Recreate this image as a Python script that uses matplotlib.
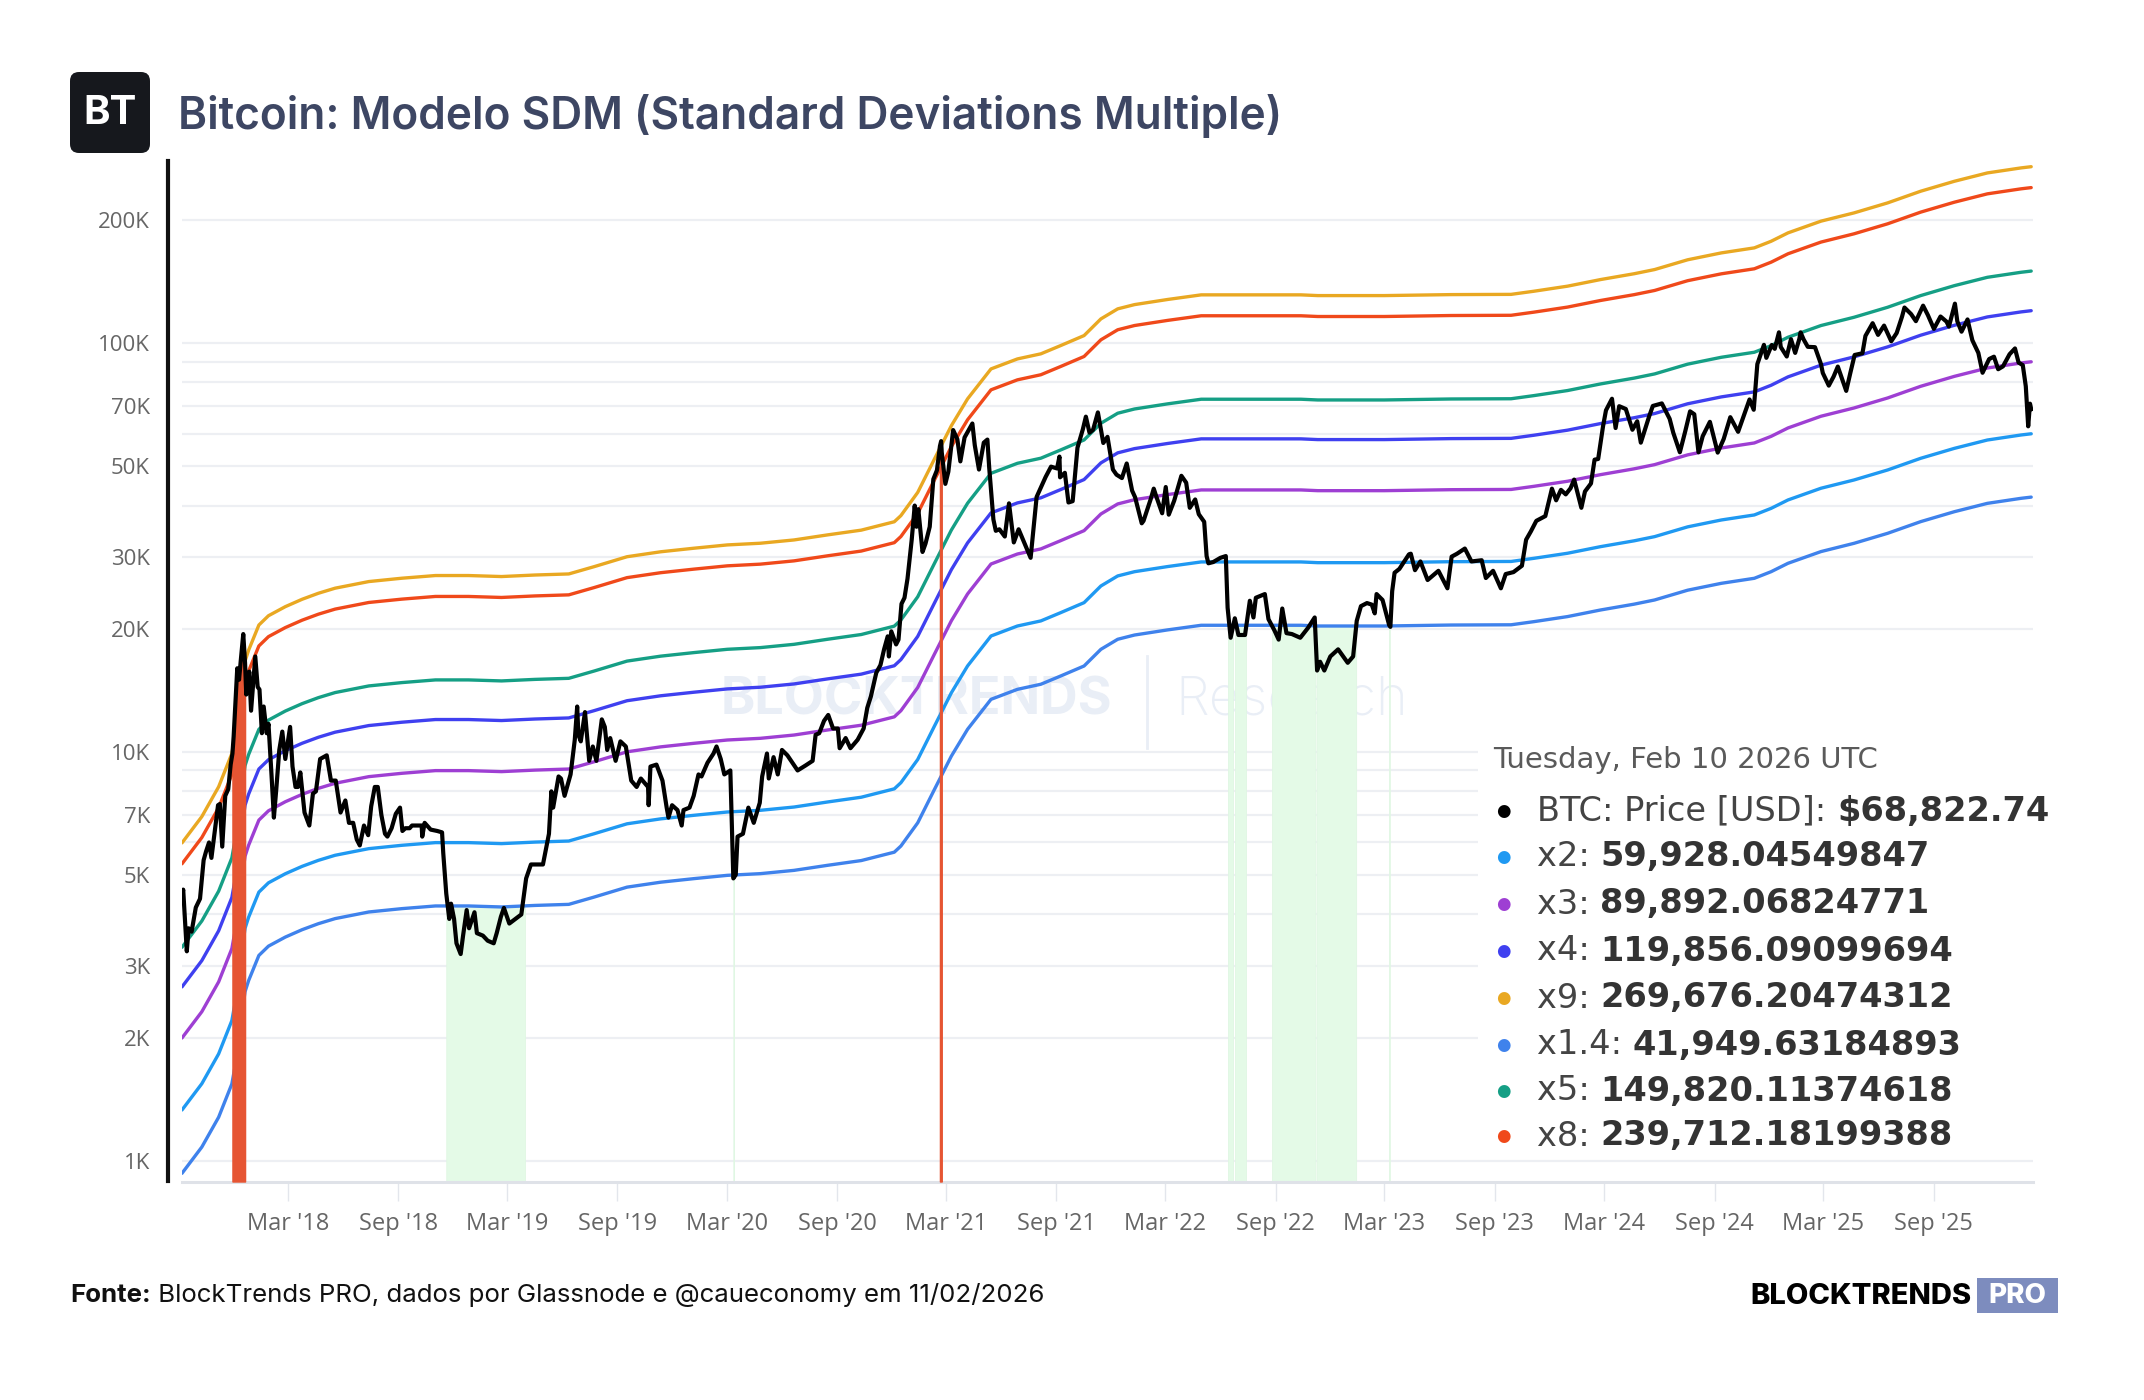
import numpy as np
import matplotlib
matplotlib.use('Agg')
import matplotlib.pyplot as plt
import matplotlib.dates as mdates
from matplotlib.patches import FancyBboxPatch, Rectangle
from matplotlib.ticker import FixedLocator, FuncFormatter
from matplotlib.transforms import IdentityTransform

# ---- data ----
price_dates = [
    '2017-09-06', '2017-09-08', '2017-09-14', '2017-09-17', '2017-09-22', '2017-09-29', '2017-10-06',
    '2017-10-12', '2017-10-16', '2017-10-21', '2017-10-25', '2017-10-31', '2017-11-05', '2017-11-08',
    '2017-11-12', '2017-11-17', '2017-11-22', '2017-11-26', '2017-11-29', '2017-12-01', '2017-12-07',
    '2017-12-10', '2017-12-13', '2017-12-17', '2017-12-20', '2017-12-22', '2017-12-27', '2017-12-30',
    '2018-01-06', '2018-01-10', '2018-01-13', '2018-01-17', '2018-01-20', '2018-01-25', '2018-01-28',
    '2018-02-02', '2018-02-06', '2018-02-10', '2018-02-15', '2018-02-20', '2018-02-25', '2018-03-05',
    '2018-03-09', '2018-03-14', '2018-03-18', '2018-03-22', '2018-03-29', '2018-04-06', '2018-04-12',
    '2018-04-17', '2018-04-24', '2018-05-05', '2018-05-12', '2018-05-20', '2018-05-28', '2018-06-05',
    '2018-06-11', '2018-06-18', '2018-06-24', '2018-06-29', '2018-07-06', '2018-07-13', '2018-07-18',
    '2018-07-24', '2018-07-29', '2018-08-04', '2018-08-10', '2018-08-14', '2018-08-21', '2018-08-28',
    '2018-09-04', '2018-09-08', '2018-09-13', '2018-09-20', '2018-09-24', '2018-10-01', '2018-10-10',
    '2018-10-11', '2018-10-15', '2018-10-25', '2018-11-05', '2018-11-13', '2018-11-15', '2018-11-20',
    '2018-11-25', '2018-11-28', '2018-12-03', '2018-12-07', '2018-12-14', '2018-12-18', '2018-12-24',
    '2018-12-28',
    '2019-01-06', '2019-01-10', '2019-01-20', '2019-01-28', '2019-02-07', '2019-02-12', '2019-02-19',
    '2019-02-24', '2019-03-05', '2019-03-15', '2019-03-25', '2019-04-02', '2019-04-10', '2019-04-20',
    '2019-04-30', '2019-05-10', '2019-05-14', '2019-05-17', '2019-05-26', '2019-05-30', '2019-06-05',
    '2019-06-15', '2019-06-22', '2019-06-26', '2019-06-28', '2019-07-02', '2019-07-09', '2019-07-16',
    '2019-07-22', '2019-07-28', '2019-08-06', '2019-08-11', '2019-08-15', '2019-08-20', '2019-08-29',
    '2019-09-06', '2019-09-15', '2019-09-24', '2019-10-03', '2019-10-10', '2019-10-22', '2019-10-23',
    '2019-10-26', '2019-11-05', '2019-11-15', '2019-11-22', '2019-11-25', '2019-12-01', '2019-12-10',
    '2019-12-17', '2019-12-20', '2019-12-30',
    '2020-01-06', '2020-01-14', '2020-01-19', '2020-01-29', '2020-02-08', '2020-02-13', '2020-02-20',
    '2020-02-26', '2020-03-07', '2020-03-12', '2020-03-16', '2020-03-19', '2020-03-28', '2020-04-06',
    '2020-04-15', '2020-04-25', '2020-04-29', '2020-05-07', '2020-05-10', '2020-05-18', '2020-05-25',
    '2020-06-01', '2020-06-10', '2020-06-27', '2020-07-10', '2020-07-22', '2020-07-27', '2020-08-02',
    '2020-08-10', '2020-08-17', '2020-08-25', '2020-09-02', '2020-09-05', '2020-09-15', '2020-09-23',
    '2020-10-05', '2020-10-15', '2020-10-21', '2020-10-27', '2020-11-05', '2020-11-12', '2020-11-18',
    '2020-11-24', '2020-11-26', '2020-11-30', '2020-12-08', '2020-12-12', '2020-12-17', '2020-12-22',
    '2020-12-27',
    '2021-01-03', '2021-01-08', '2021-01-11', '2021-01-14', '2021-01-21', '2021-01-26', '2021-02-02',
    '2021-02-08', '2021-02-14', '2021-02-19', '2021-02-21', '2021-02-22', '2021-02-28', '2021-03-05',
    '2021-03-13', '2021-03-20', '2021-03-25', '2021-04-01', '2021-04-14', '2021-04-18', '2021-04-25',
    '2021-05-03', '2021-05-09', '2021-05-12', '2021-05-19', '2021-05-23', '2021-05-29', '2021-06-07',
    '2021-06-14', '2021-06-22', '2021-06-30', '2021-07-08', '2021-07-20', '2021-07-25', '2021-07-30',
    '2021-08-07', '2021-08-14', '2021-08-23', '2021-09-02', '2021-09-06', '2021-09-07', '2021-09-15',
    '2021-09-21', '2021-09-28', '2021-10-06', '2021-10-15', '2021-10-20', '2021-10-26', '2021-11-01',
    '2021-11-09', '2021-11-18', '2021-11-25', '2021-12-04', '2021-12-10', '2021-12-19', '2021-12-27',
    '2022-01-05', '2022-01-10', '2022-01-21', '2022-01-24', '2022-02-05', '2022-02-10', '2022-02-14',
    '2022-02-24', '2022-03-02', '2022-03-07', '2022-03-16', '2022-03-28', '2022-04-05', '2022-04-11',
    '2022-04-20', '2022-04-26', '2022-05-05', '2022-05-09', '2022-05-12', '2022-05-20', '2022-06-01',
    '2022-06-10', '2022-06-13', '2022-06-18', '2022-06-25', '2022-07-01', '2022-07-12', '2022-07-20',
    '2022-07-26', '2022-07-30', '2022-08-14', '2022-08-20', '2022-08-30', '2022-09-06', '2022-09-12',
    '2022-09-19', '2022-09-28', '2022-10-12', '2022-10-25', '2022-11-05', '2022-11-09', '2022-11-14',
    '2022-11-21', '2022-12-01', '2022-12-14', '2022-12-30',
    '2023-01-08', '2023-01-14', '2023-01-21', '2023-01-31', '2023-02-08', '2023-02-13', '2023-02-16',
    '2023-02-26', '2023-03-09', '2023-03-11', '2023-03-14', '2023-03-18', '2023-03-26', '2023-04-11',
    '2023-04-14', '2023-04-21', '2023-04-30', '2023-05-12', '2023-05-30', '2023-06-14', '2023-06-21',
    '2023-06-30', '2023-07-13', '2023-07-24', '2023-08-10', '2023-08-17', '2023-08-29', '2023-09-11',
    '2023-09-19', '2023-10-02', '2023-10-16', '2023-10-23', '2023-10-31', '2023-11-09', '2023-11-24',
    '2023-12-05', '2023-12-12', '2023-12-20', '2023-12-28',
    '2024-01-05', '2024-01-11', '2024-01-23', '2024-01-29', '2024-02-08', '2024-02-14', '2024-02-20',
    '2024-02-28', '2024-03-04', '2024-03-14', '2024-03-20', '2024-03-26', '2024-04-06', '2024-04-17',
    '2024-04-25', '2024-05-01', '2024-05-15', '2024-05-21', '2024-06-05', '2024-06-18', '2024-06-24',
    '2024-07-05', '2024-07-14', '2024-07-22', '2024-07-29', '2024-08-05', '2024-08-12', '2024-08-24',
    '2024-09-06', '2024-09-16', '2024-09-27', '2024-10-10', '2024-10-21', '2024-10-29', '2024-11-05',
    '2024-11-11', '2024-11-22', '2024-11-26', '2024-12-05', '2024-12-10', '2024-12-17', '2024-12-20',
    '2024-12-30',
    '2025-01-06', '2025-01-13', '2025-01-20', '2025-01-22', '2025-01-27', '2025-02-03', '2025-02-15',
    '2025-02-25', '2025-02-28', '2025-03-10', '2025-03-18', '2025-03-25', '2025-04-08', '2025-04-15',
    '2025-04-22', '2025-05-05', '2025-05-10', '2025-05-22', '2025-05-31', '2025-06-10', '2025-06-22',
    '2025-07-01', '2025-07-10', '2025-07-14', '2025-07-25', '2025-08-02', '2025-08-14', '2025-08-22',
    '2025-09-01', '2025-09-12', '2025-09-22', '2025-09-26', '2025-10-06', '2025-10-10', '2025-10-17',
    '2025-10-27', '2025-11-04', '2025-11-14', '2025-11-21', '2025-12-02', '2025-12-10', '2025-12-17',
    '2025-12-25',
    '2026-01-05', '2026-01-14', '2026-01-20', '2026-01-27', '2026-02-01', '2026-02-05', '2026-02-08',
    '2026-02-10',
]
price_usd = [
    4400, 4600, 3250, 3700, 3630, 4160, 4370,
    5430, 5700, 6000, 5500, 6450, 7400, 7450,
    5860, 7800, 8100, 9300, 9900, 10900, 16000,
    15000, 16800, 19400, 16500, 13800, 15700, 12600,
    17100, 14400, 14200, 11100, 12900, 11100, 11700,
    8800, 6900, 8100, 10100, 11200, 9600, 11500,
    9200, 8200, 8200, 8900, 7100, 6600, 7900,
    8000, 9600, 9800, 8500, 8500, 7100, 7600,
    6700, 6700, 6100, 5900, 6600, 6250, 7350,
    8200, 8200, 7000, 6300, 6200, 6500, 7050,
    7300, 6400, 6500, 6500, 6600, 6600, 6600,
    6200, 6700, 6450, 6400, 6350, 5650, 4500,
    3900, 4250, 3900, 3400, 3200, 3550, 4100,
    3700,
    4050, 3600, 3550, 3450, 3400, 3600, 3950,
    4150, 3800, 3900, 4000, 4900, 5300, 5300,
    5300, 6300, 8000, 7300, 8700, 8600, 7800,
    8800, 10700, 12900, 11000, 10600, 12500, 9500,
    10300, 9500, 12000, 11500, 10100, 10800, 9500,
    10600, 10300, 8500, 8200, 8600, 8200, 7400,
    9200, 9300, 8500, 7300, 6900, 7400, 7200,
    6600, 7200, 7300,
    7800, 8800, 8700, 9400, 9900, 10300, 9600,
    8800, 9000, 4900, 5000, 6200, 6300, 7300,
    6700, 7500, 8700, 9900, 8600, 9700, 8800,
    10100, 9800, 9000, 9250, 9500, 11000, 11100,
    11900, 12300, 11400, 11400, 10200, 10800, 10200,
    10700, 11400, 12800, 13650, 15600, 16300, 17800,
    19150, 17100, 19700, 18300, 18800, 23000, 23800,
    26500,
    33000, 40000, 35500, 39200, 30800, 32300, 35500,
    46400, 48800, 55900, 57500, 54000, 45200, 48400,
    61200, 58100, 51300, 58700, 63500, 56200, 49000,
    57000, 58000, 49600, 37000, 34700, 35000, 33600,
    40500, 32500, 35000, 32800, 29800, 35400, 42000,
    44600, 47000, 49800, 49300, 52700, 46900, 48100,
    40700, 41000, 55400, 61500, 66000, 60300, 61300,
    67600, 56900, 58900, 49000, 47600, 46700, 50700,
    43500, 41900, 36200, 36700, 41500, 44000, 42200,
    38300, 44400, 38000, 41100, 47300, 45500, 39500,
    41400, 38100, 36500, 30100, 28900, 29100, 29800,
    30100, 22500, 19000, 21200, 19300, 19300, 23400,
    21300, 23800, 24300, 21100, 19800, 18800, 22400,
    19500, 19400, 19000, 20100, 21300, 15800, 16600,
    15800, 17100, 17800, 16500,
    17100, 20900, 22700, 23100, 22900, 21800, 24300,
    23500, 20400, 20200, 24700, 27400, 28000, 30400,
    30500, 27800, 29200, 26300, 27700, 25100, 30000,
    30500, 31400, 29200, 29400, 26600, 27700, 25100,
    27200, 27500, 28500, 33000, 34600, 36700, 37700,
    44000, 41200, 43700, 42600,
    44100, 46300, 39500, 43300, 45300, 51800, 52000,
    62400, 68400, 73000, 61900, 70000, 68900, 61300,
    64300, 57000, 66200, 70100, 71100, 65200, 60300,
    54000, 60800, 68000, 66900, 54000, 59100, 64100,
    53900, 58200, 65800, 60600, 67400, 72700, 68600,
    88700, 98900, 91900, 98800, 96700, 106100, 97700,
    92600,
    102100, 94500, 102300, 106100, 102000, 97800, 97600,
    88700, 84400, 78600, 82700, 87500, 76300, 84600,
    93400, 94300, 104000, 111700, 104600, 110200, 100900,
    105700, 116000, 122000, 117600, 113000, 123300, 116900,
    108200, 116000, 112700, 109600, 124700, 112900, 106500,
    114100, 101500, 94500, 84500, 91300, 92500, 86200,
    87600,
    93800, 96900, 89500, 88200, 78300, 62500, 71000,
    68822.74,
]

# common base of the SDM bands (value of the x1 multiple)
base_dates = [
    '2017-09-06', '2017-10-09', '2017-11-06', '2017-11-28', '2017-12-07', '2017-12-14', '2017-12-20',
    '2017-12-26', '2018-01-12', '2018-01-28', '2018-02-25', '2018-03-25', '2018-04-21', '2018-05-19',
    '2018-07-14', '2018-09-07', '2018-11-02', '2018-12-27', '2019-02-20', '2019-04-17', '2019-06-12',
    '2019-07-24', '2019-09-17', '2019-11-12', '2020-01-06', '2020-03-02', '2020-04-26', '2020-06-21',
    '2020-08-16', '2020-10-11', '2020-12-05', '2020-12-16', '2021-01-13', '2021-02-10', '2021-03-10',
    '2021-04-06', '2021-05-15', '2021-06-28', '2021-08-06', '2021-09-08', '2021-10-17', '2021-11-14',
    '2021-12-12', '2022-01-09', '2022-03-05', '2022-04-30', '2022-10-13', '2022-11-10', '2023-03-01',
    '2023-06-20', '2023-09-28', '2023-11-05', '2023-12-31', '2024-02-24', '2024-04-20', '2024-05-24',
    '2024-07-18', '2024-09-12', '2024-11-06', '2024-12-04', '2025-01-01', '2025-02-25', '2025-04-21',
    '2025-06-16', '2025-08-10', '2025-10-05', '2025-11-29', '2026-01-24', '2026-02-10',
]
base_usd = [
    665, 771, 912, 1100, 1300, 1600, 1850,
    1970, 2268, 2390, 2515, 2622, 2712, 2791,
    2897, 2952, 2997, 2997, 2980, 3006, 3024,
    3150, 3332, 3426, 3495, 3561, 3595, 3662,
    3768, 3870, 4057, 4200, 4786, 5782, 6968,
    8105, 9594, 10150, 10445, 10942, 11577, 12716,
    13456, 13782, 14185, 14560, 14560, 14500, 14500,
    14580, 14600, 14860, 15290, 15870, 16400, 16790,
    17740, 18440, 18970, 19690, 20640, 22050, 23100,
    24440, 26100, 27600, 28930, 29760, 29964.02,
]

band_names = ['x9', 'x8', 'x5', 'x4', 'x3', 'x2', 'x1.4']
band_mult = [9, 8, 5, 4, 3, 2, 1.4]
band_colors = ['#E9A822', '#F0491A', '#159F85', '#3F40F0', '#9E3FD3', '#1F99F2', '#3F82EC']

# periods: price above x9 (red) / below x1.4 (green)
red_start = ['2017-11-29', '2021-02-19']
red_end = ['2017-12-20', '2021-02-22']
green_start = ['2018-11-20', '2020-03-12', '2022-06-13', '2022-06-25', '2022-08-26', '2022-11-08', '2023-03-09']
green_end = ['2019-03-31', '2020-03-13', '2022-06-22', '2022-07-14', '2022-11-06', '2023-01-13', '2023-03-10']

ytick_labels = [1e3, 2e3, 3e3, 5e3, 7e3, 1e4, 2e4, 3e4, 5e4, 7e4, 1e5, 2e5]

legend_labels = ['BTC: Price [USD]: ', 'x2: ', 'x3: ', 'x4: ', 'x9: ', 'x1.4: ', 'x5: ', 'x8: ']
legend_values = ['$68,822.74', '59,928.04549847', '89,892.06824771', '119,856.09099694',
                 '269,676.20474312', '41,949.63184893', '149,820.11374618', '239,712.18199388']
legend_colors = ['black', '#1F99F2', '#9E3FD3', '#3F40F0', '#E9A822', '#3F82EC', '#159F85', '#F0491A']

# ---- figure ----
W, H = 2144, 1400
fig = plt.figure(figsize=(W / 100, H / 100), dpi=100)
fig.patch.set_facecolor('white')


def fx(px):
    return px / W


def fy(py):
    return 1 - py / H


ax = fig.add_axes([fx(182), fy(1181.5), fx(2033) - fx(182), fy(161.3) - fy(1181.5)])

pd_ = np.array(price_dates, dtype='datetime64[D]')
pv = np.array(price_usd, dtype=float)
bd = np.array(base_dates, dtype='datetime64[D]')
bv = np.array(base_usd, dtype=float)

ymin, ymax = 889, 278000

# bands
for name, m, c in zip(band_names, band_mult, band_colors):
    ax.plot(bd, bv * m, color=c, lw=2.4, zorder=3, solid_capstyle='round')


def span_curve(d0, d1, dates, vals):
    d0 = np.datetime64(d0)
    d1 = np.datetime64(d1)
    inside = (dates > d0) & (dates < d1)
    xs = np.concatenate([[d0], dates[inside], [d1]])
    xn = xs.astype('int64')
    ys = np.exp(np.interp(xn, dates.astype('int64'), np.log(vals)))
    return xs, ys


# green: price under the x1.4 band
for s, e in zip(green_start, green_end):
    xs, ys = span_curve(s, e, bd, bv * 1.4)
    ax.fill_between(xs, ymin, ys, color='#E4FAE7', lw=0.6, edgecolor='#E0F7E3', zorder=1)

# red: price above the x9 band
for s, e in zip(red_start, red_end):
    xs, ys = span_curve(s, e, pd_, pv)
    ax.fill_between(xs, ymin, ys, color='#E65533', lw=1.0, edgecolor='#E65533', zorder=4)

ax.plot(pd_, pv, color='black', lw=3.0, zorder=5, solid_joinstyle='round')

ax.set_yscale('log')
ax.set_ylim(ymin, ymax)
ax.set_xlim(np.datetime64('2017-09-06'), np.datetime64('2026-02-13'))

grid_vals = [k * 10 ** n for n in range(3, 6) for k in range(1, 10) if k * 10 ** n <= ymax]
ax.yaxis.set_major_locator(FixedLocator(grid_vals))
ax.yaxis.set_minor_locator(FixedLocator([]))


def ylab(v, pos):
    if any(abs(v - t) < 1 for t in ytick_labels):
        return f"{int(v / 1000)}K"
    return ''


ax.yaxis.set_major_formatter(FuncFormatter(ylab))
ax.grid(axis='y', color='#EDEFF3', lw=1.6, zorder=0)
ax.set_axisbelow(True)

ax.xaxis.set_major_locator(mdates.MonthLocator(bymonth=[3, 9]))
ax.xaxis.set_major_formatter(mdates.DateFormatter("%b '%y"))

for sp in ['top', 'right']:
    ax.spines[sp].set_visible(False)
ax.spines['left'].set_position(('outward', 10))
ax.spines['left'].set_linewidth(3)
ax.spines['left'].set_color('#111111')
ax.spines['bottom'].set_color('#DFE2E8')
ax.spines['bottom'].set_linewidth(2.2)

ax.tick_params(axis='y', length=0, pad=13, labelsize=16, labelcolor='#666666')
ax.tick_params(axis='x', length=14, width=1, color='#E3E6EC', pad=8, labelsize=17, labelcolor='#666666')
for lab in ax.get_xticklabels() + ax.get_yticklabels():
    lab.set_family('Open Sans')

# watermark
wm = '#E9EEF6'
ax.text(0.397, 0.471, 'BLOCKTRENDS', transform=ax.transAxes, ha='center', va='center',
        fontsize=37.5, fontweight='bold', color=wm, family='Inter', zorder=0.5)
ax.text(0.5997, 0.471, 'Research', transform=ax.transAxes, ha='center', va='center',
        fontsize=39, color=wm, family='Inter', fontweight='light', zorder=0.5)
ax.plot([0.5212, 0.5212], [0.425, 0.515], transform=ax.transAxes, color=wm, lw=2, zorder=0.5)

# tooltip box covering gridlines
box_left = (1478 - 182) / (2033 - 182)
box_bot = (1181.5 - 1150) / (1181.5 - 161.3)
box_top = (1181.5 - 735) / (1181.5 - 161.3)
ax.add_patch(Rectangle((box_left, box_bot), 1.05 - box_left, box_top - box_bot,
                       transform=ax.transAxes, facecolor='white', edgecolor='none',
                       zorder=0.8, clip_on=False))

renderer = fig.canvas.get_renderer()


def two_part(x, y, a, b, size, color_a, color_b, fam, wa='normal', wb='bold'):
    t = fig.text(fx(x), fy(y), a, fontsize=size, color=color_a, family=fam, fontweight=wa,
                 ha='left', va='center')
    bb = t.get_window_extent(renderer=renderer)
    fig.text(bb.x1 / W, fy(y), b, fontsize=size, color=color_b, family=fam, fontweight=wb,
             ha='left', va='center')


fig.text(fx(1493), fy(760), 'Tuesday, Feb 10 2026 UTC', fontsize=21, color='#5a5a5a',
         family='DejaVu Sans', ha='left', va='center')
row_y = [811, 857, 904, 951, 998, 1045, 1091, 1136]
for yy, lab, val, col in zip(row_y, legend_labels, legend_values, legend_colors):
    fig.text(fx(1503), fy(yy), '\u25CF', fontsize=12, color=col, ha='center', va='center',
             family='DejaVu Sans')
    two_part(1537, yy, lab, val, 24.2, '#444444', '#333333', 'DejaVu Sans')

# header
fig.patches.append(FancyBboxPatch((70, H - 153), 80, 81, boxstyle='round,pad=0,rounding_size=9',
                                  transform=IdentityTransform(), facecolor='#16181D',
                                  edgecolor='none', figure=fig))
fig.text(fx(110), fy(113), 'BT', fontsize=29, fontweight='bold', color='white', family='Inter',
         ha='center', va='center')
fig.text(fx(178), fy(116), 'Bitcoin: Modelo SDM (Standard Deviations Multiple)', fontsize=31.8,
         fontweight='semibold', color='#3D4663', family='Inter', ha='left', va='center')

# footer
two_part(70, 1295, 'Fonte:', ' BlockTrends PRO, dados por Glassnode e @caueconomy em 11/02/2026',
         18.6, '#111111', '#111111', 'Inter', wa='bold', wb='normal')
fig.text(fx(1972), fy(1296), 'BLOCKTRENDS', fontsize=21, fontweight='heavy', color='black',
         family='Inter', ha='right', va='center')
fig.patches.append(Rectangle((1977, H - 1313), 81, 35, transform=IdentityTransform(),
                             facecolor='#7D8CBE', edgecolor='none', figure=fig))
fig.text(fx(2017.5), fy(1296), 'PRO', fontsize=20, fontweight='heavy', color='white',
         family='Inter', ha='center', va='center')

fig.savefig('out.png', dpi=100)
